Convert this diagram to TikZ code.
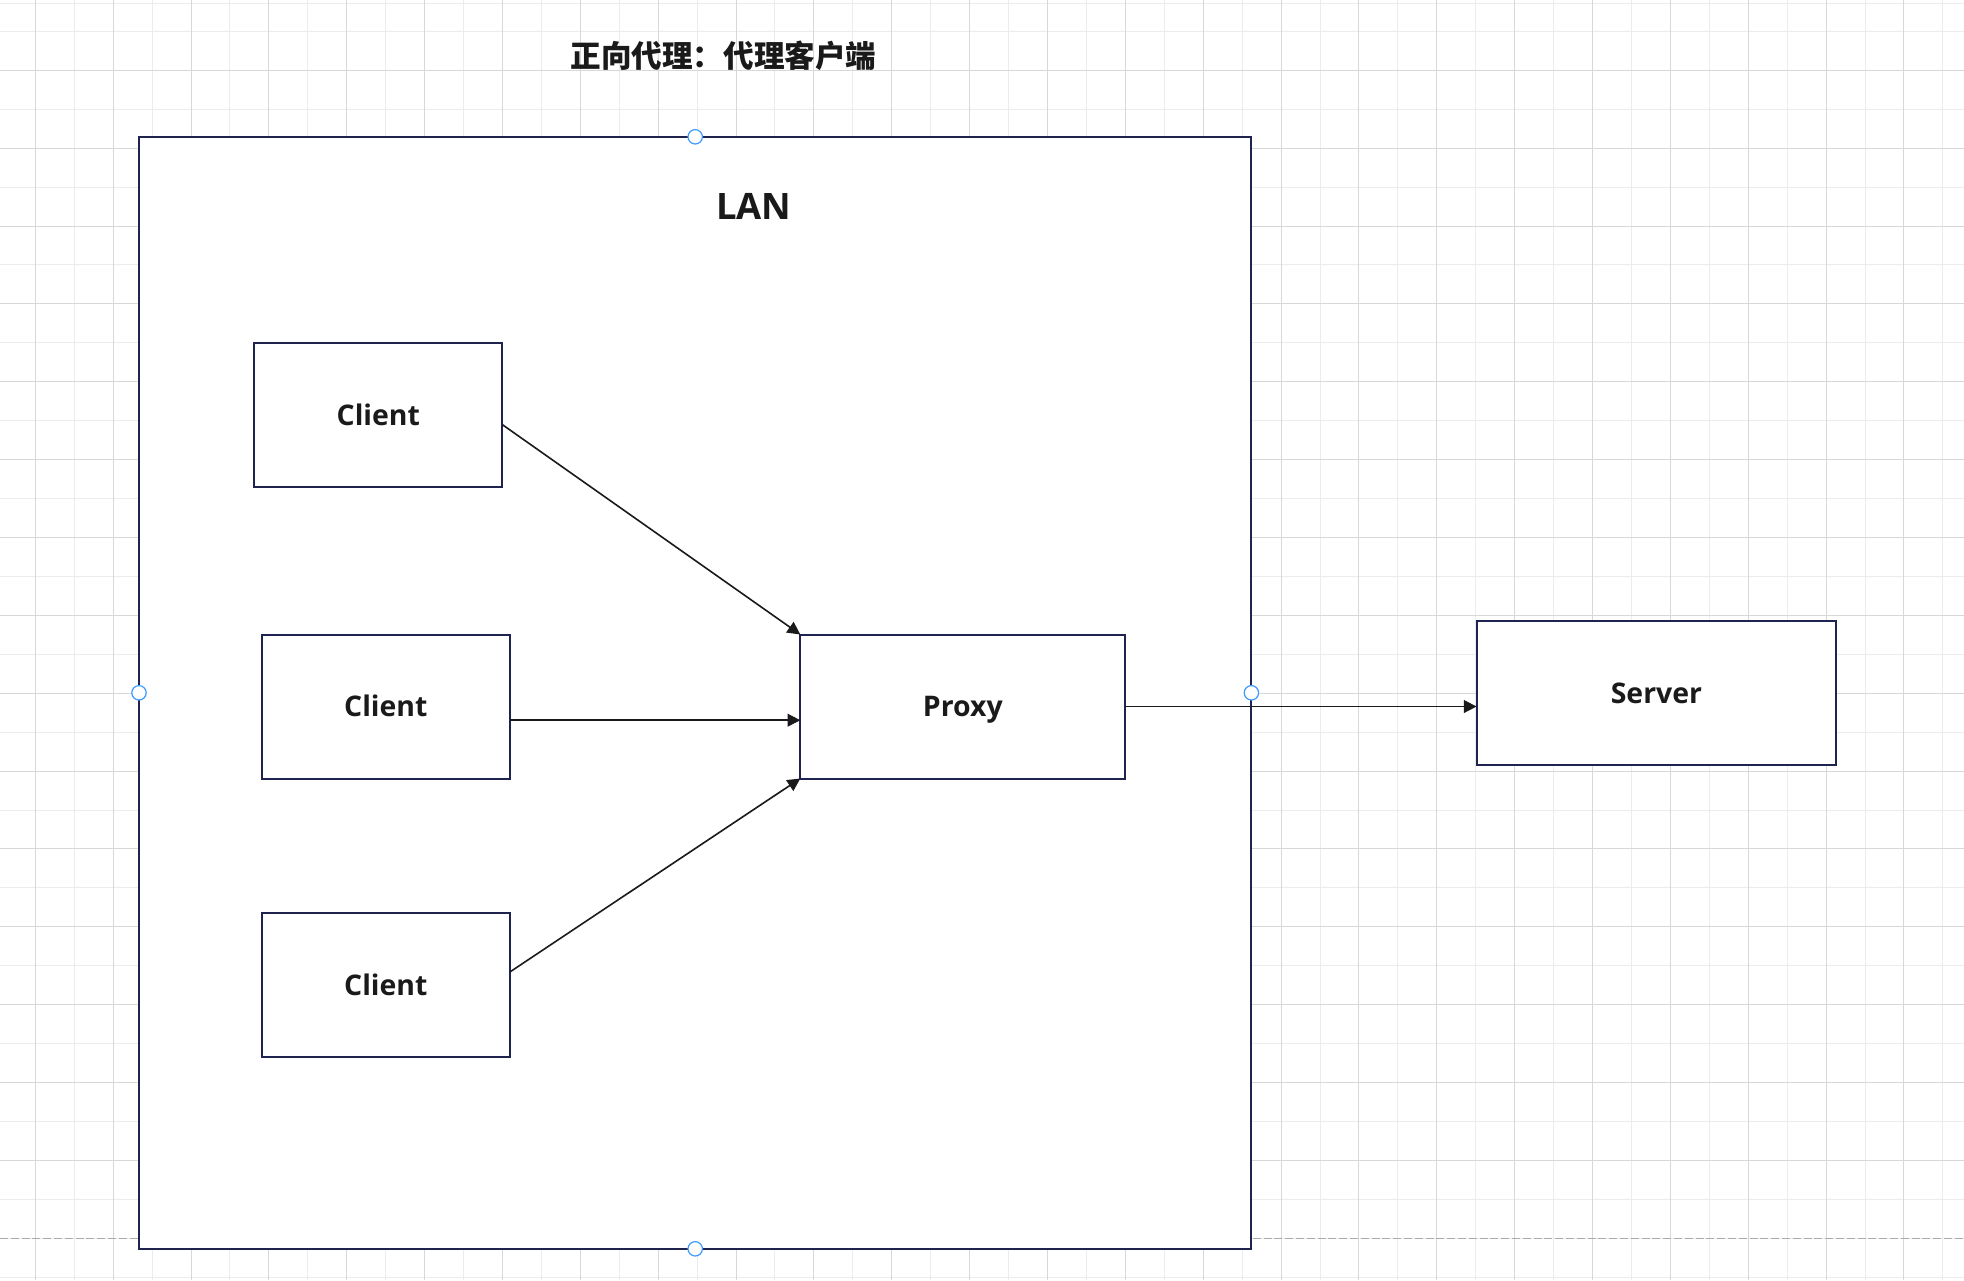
\documentclass[tikz,border=0pt]{standalone}
\usepackage{fontspec}
\setmainfont{Open Sans}
\newfontfamily\cjk{Noto Sans CJK SC}
\usetikzlibrary{arrows.meta}
\definecolor{gridmin}{HTML}{ECECEC}
\definecolor{gridmaj}{HTML}{D8D8D8}
\definecolor{pagebrk}{HTML}{ABABAB}
\definecolor{boxline}{HTML}{1F2350}
\definecolor{txt}{HTML}{1A1A1A}
\definecolor{handle}{HTML}{3D9BFF}
\begin{document}
\begin{tikzpicture}[x=0.5pt,y=-0.5pt,
  box/.style={draw=boxline,line width=1pt,fill=white,inner sep=0pt,outer sep=0pt,
    text=txt,font=\bfseries\fontsize{14.2}{16}\selectfont,minimum height=72pt,
    text height=10.14pt,text depth=0pt},
  conn/.style={draw=txt,line width=0.8pt,-{Triangle[length=6.4pt,width=6.4pt]}},
  hdl/.style={circle,draw=handle,line width=0.6pt,fill=white,inner sep=0pt,minimum size=7.2pt}]
\fill[white] (0,0) rectangle (1964,1280);
\useasboundingbox (0,0) rectangle (1964,1280);
% grid
\foreach \k [evaluate=\k as \xx using 35.3+38.93*\k] in {0,...,49}
  \draw[gridmin,line width=0.5pt] (\xx,0) -- (\xx,1280);
\foreach \j [evaluate=\j as \yy using 31.4+38.93*\j] in {0,...,32}
  \draw[gridmin,line width=0.5pt] (0,\yy) -- (1964,\yy);
\draw[gridmin,line width=0.5pt] (0,3.3) -- (1964,3.3);
\foreach \k [evaluate=\k as \xx using 35.3+77.86*\k] in {0,...,24}
  \draw[gridmaj,line width=0.5pt] (\xx,0) -- (\xx,1280);
\foreach \j [evaluate=\j as \yy using 70.3+77.86*\j] in {0,...,14}
  \draw[gridmaj,line width=0.5pt] (0,\yy) -- (1964,\yy);
\draw[pagebrk,line width=0.5pt,dash pattern=on 4pt off 1.4pt] (0,1238.2) -- (1964,1238.2);
% title
\node[text=txt,font=\cjk\bfseries\fontsize{15.3}{17}\selectfont] (title) at (723.5,55.5) {正向代理：代理客户端};
% LAN container
\node[draw=boxline,line width=1pt,fill=white,inner sep=0pt,outer sep=0pt,
  minimum width=556.2pt,minimum height=556pt] (lan) at (695.2,692.8) {};
\node[text=txt,font=\bfseries\fontsize{18.2}{20}\selectfont,inner sep=0pt,
  text height=13pt,text depth=0pt] (lanlbl) at (753.7,206.3) {LAN};
% boxes
\node[box,minimum width=124pt] (c1) at (378.3,415.2) {Client};
\node[box,minimum width=124pt] (c2) at (385.8,706.5) {Client};
\node[box,minimum width=124pt] (c3) at (385.8,985.2) {Client};
\node[box,minimum width=162.5pt] (p) at (962.8,706.5) {Proxy};
\node[box,minimum width=179.8pt] (s) at (1656.4,693.3) {Server};
% connectors
\draw[conn] ([yshift=-4.7pt]c1.east) -- (p.north west);
\coordinate (c2out) at ([yshift=-6.85pt]c2.east);
\draw[conn] (c2out) -- (c2out -| p.west);
\draw[conn] ([yshift=6.6pt]c3.east) -- (p.south west);
\draw[conn] (p.east) -- (p.east -| s.west);
% handles
\node[hdl] (h1) at (lan.north) {};
\node[hdl] (h2) at (lan.south) {};
\node[hdl] (h3) at (lan.west) {};
\node[hdl] (h4) at (lan.east) {};
\end{tikzpicture}
\end{document}
